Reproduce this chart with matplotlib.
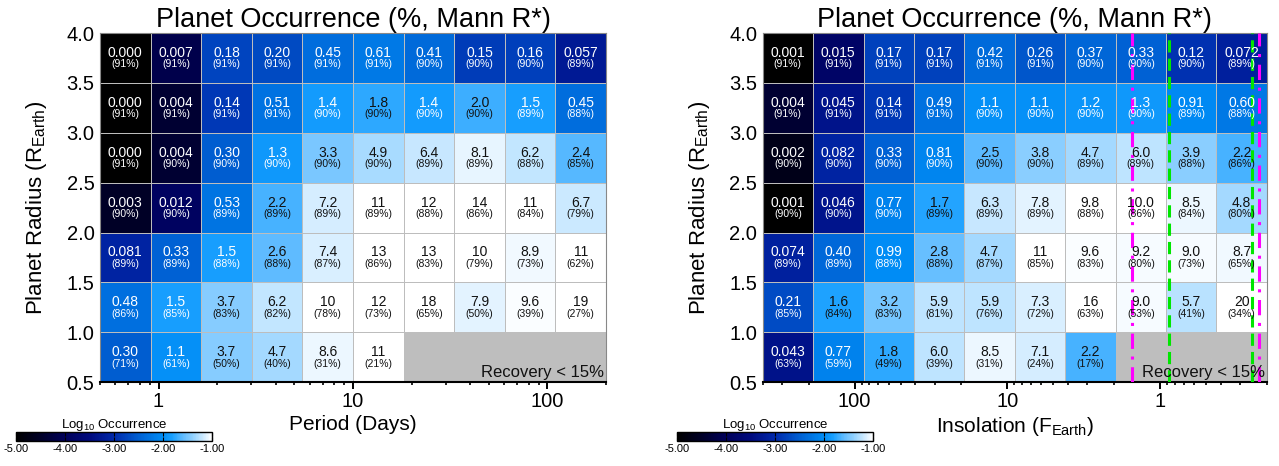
import numpy as np
import matplotlib
matplotlib.use("Agg")
import matplotlib.pyplot as plt
from matplotlib.colors import LinearSegmentedColormap, Normalize
from matplotlib.ticker import NullFormatter, LogLocator

plt.rcParams['font.family'] = ['Liberation Sans', 'DejaVu Sans']
plt.rcParams['mathtext.fontset'] = 'custom'
plt.rcParams['mathtext.rm'] = 'Liberation Sans'
plt.rcParams['mathtext.it'] = 'Liberation Sans:italic'

# bin edges
radius_edges = [0.5, 1.0, 1.5, 2.0, 2.5, 3.0, 3.5, 4.0]
period_edges = [0.5, 0.910, 1.657, 3.017, 5.493, 10.0, 18.20, 33.14, 60.34, 109.9, 200.0]
insol_edges = [400.0, 187.1, 87.5, 40.9, 19.14, 8.95, 4.19, 1.96, 0.915, 0.428, 0.200]

# occurrence (%) rows from R=0.5-1.0 (bottom) up to 3.5-4.0 (top); None = recovery < 15%
occ_period = [
    [0.30, 1.1, 3.7, 4.7, 8.6, 11, None, None, None, None],
    [0.48, 1.5, 3.7, 6.2, 10, 12, 18, 7.9, 9.6, 19],
    [0.081, 0.33, 1.5, 2.6, 7.4, 13, 13, 10, 8.9, 11],
    [0.003, 0.012, 0.53, 2.2, 7.2, 11, 12, 14, 11, 6.7],
    [0.000, 0.004, 0.30, 1.3, 3.3, 4.9, 6.4, 8.1, 6.2, 2.4],
    [0.000, 0.004, 0.14, 0.51, 1.4, 1.8, 1.4, 2.0, 1.5, 0.45],
    [0.000, 0.007, 0.18, 0.20, 0.45, 0.61, 0.41, 0.15, 0.16, 0.057],
]
rec_period = [
    [71, 61, 50, 40, 31, 21, None, None, None, None],
    [86, 85, 83, 82, 78, 73, 65, 50, 39, 27],
    [89, 89, 88, 88, 87, 86, 83, 79, 73, 62],
    [90, 90, 89, 89, 89, 89, 88, 86, 84, 79],
    [91, 90, 90, 90, 90, 90, 89, 89, 88, 85],
    [91, 91, 91, 91, 90, 90, 90, 90, 89, 88],
    [91, 91, 91, 91, 91, 91, 90, 90, 90, 89],
]

occ_insol = [
    [0.043, 0.77, 1.8, 6.0, 8.5, 7.1, 2.2, None, None, None],
    [0.21, 1.6, 3.2, 5.9, 5.9, 7.3, 16, 9.0, 5.7, 20],
    [0.074, 0.40, 0.99, 2.8, 4.7, 11, 9.6, 9.2, 9.0, 8.7],
    [0.001, 0.046, 0.77, 1.7, 6.3, 7.8, 9.8, 9.98, 8.5, 4.8],
    [0.002, 0.082, 0.33, 0.81, 2.5, 3.8, 4.7, 6.0, 3.9, 2.2],
    [0.004, 0.045, 0.14, 0.49, 1.1, 1.1, 1.2, 1.3, 0.91, 0.60],
    [0.001, 0.015, 0.17, 0.17, 0.42, 0.26, 0.37, 0.33, 0.12, 0.072],
]
rec_insol = [
    [63, 59, 49, 39, 31, 24, 17, None, None, None],
    [85, 84, 83, 81, 76, 72, 63, 53, 41, 34],
    [89, 89, 88, 88, 87, 85, 83, 80, 73, 65],
    [90, 90, 90, 89, 89, 89, 88, 86, 84, 80],
    [90, 90, 90, 90, 90, 90, 89, 89, 88, 86],
    [91, 91, 91, 91, 90, 90, 90, 90, 89, 88],
    [91, 91, 91, 91, 91, 91, 90, 90, 90, 89],
]

# habitable zone limits (insolation)
hz_optimistic = [1.53, 0.226]
hz_conservative = [0.88, 0.25]

# colour table: log10 occurrence -> colour
cmap = LinearSegmentedColormap.from_list("bluewhite", [
    (0.000, (0, 0, 0)),
    (0.125, (0, 0, 40 / 255)),
    (0.250, (0, 0, 90 / 255)),
    (0.375, (0, 10 / 255, 125 / 255)),
    (0.500, (0, 40 / 255, 170 / 255)),
    (0.625, (0, 95 / 255, 210 / 255)),
    (0.750, (0, 140 / 255, 245 / 255)),
    (0.800, (25 / 255, 160 / 255, 1)),
    (0.850, (90 / 255, 185 / 255, 1)),
    (0.900, (140 / 255, 207 / 255, 1)),
    (0.950, (195 / 255, 230 / 255, 1)),
    (1.000, (1, 1, 1)),
])
norm = Normalize(vmin=-5, vmax=-1)


def fmt(v):
    if v < 0.1:
        return "%.3f" % v
    if v < 1:
        return "%.2f" % v
    if v < 10:
        return "%.1f" % v
    return "%d" % round(v)


def draw_panel(ax, xedges, occ, rec):
    occ_arr = np.array([[np.nan if v is None else v for v in row] for row in occ], dtype=float)
    logc = np.log10(np.maximum(occ_arr, 1e-6) / 100.0)
    logc = np.ma.masked_invalid(logc)
    ax.pcolormesh(xedges, radius_edges, logc, cmap=cmap, norm=norm,
                  edgecolors='#bdbdbd', linewidth=0.6, zorder=1)
    # gray region where recovery is too low
    for i, row in enumerate(occ):
        missing = [j for j, v in enumerate(row) if v is None]
        if missing:
            ax.fill_between([xedges[missing[0]], xedges[-1]], radius_edges[i], radius_edges[i + 1],
                            color='#bebebe', linewidth=0, zorder=2)
    for i, row in enumerate(occ):
        yc = 0.5 * (radius_edges[i] + radius_edges[i + 1])
        for j, v in enumerate(row):
            if v is None:
                continue
            xc = np.sqrt(xedges[j] * xedges[j + 1])
            col = 'white' if v < 1.55 else '#111111'
            ax.text(xc, yc + 0.05, fmt(v), ha='center', va='center', fontsize=10, color=col, zorder=4)
            ax.text(xc, yc - 0.065, "(%d%%)" % rec[i][j], ha='center', va='center', fontsize=7.5,
                    color=col, zorder=4)
    ax.text(0.997, 0.006, "Recovery < 15%", transform=ax.transAxes, ha='right', va='bottom',
            fontsize=12, color='#111111', zorder=4)
    ax.set_xscale('log')
    ax.set_xlim(xedges[0], xedges[-1])
    ax.set_ylim(radius_edges[0], radius_edges[-1])
    ax.set_yticks(radius_edges)
    ax.set_yticklabels(["%.1f" % r for r in radius_edges])
    ax.tick_params(axis='y', length=0, pad=4, labelsize=14.5)
    ax.tick_params(axis='x', which='major', direction='out', length=5, width=1.4, labelsize=14.5, pad=2)
    ax.tick_params(axis='x', which='minor', direction='out', length=2.5, width=1.2)
    ax.xaxis.set_minor_locator(LogLocator(base=10, subs=np.arange(2, 10)))
    ax.xaxis.set_minor_formatter(NullFormatter())
    for side in ['top', 'right', 'left']:
        ax.spines[side].set_color('#888888')
        ax.spines[side].set_linewidth(0.8)
    ax.spines['bottom'].set_linewidth(1.5)
    ax.set_title("Planet Occurrence (%, Mann R*)", fontsize=19.5, pad=2)
    ax.set_ylabel(r"Planet Radius (R$_{\mathrm{Earth}}$)", fontsize=16)
    ax.yaxis.set_label_coords(-0.1, 0.5)


def draw_colorbar(fig, rect):
    cax = fig.add_axes(rect)
    sm = plt.cm.ScalarMappable(norm=norm, cmap=cmap)
    cb = fig.colorbar(sm, cax=cax, orientation='horizontal', ticks=[-5, -4, -3, -2, -1])
    cb.ax.set_xticklabels(["%.2f" % t for t in [-5, -4, -3, -2, -1]])
    cb.ax.tick_params(direction='in', length=3, width=0.8, labelsize=8, pad=2, top=True)
    cb.outline.set_linewidth(1.0)
    cb.outline.set_edgecolor('black')
    cax.set_title(r"Log$_{10}$ Occurrence", fontsize=9.5, pad=3)


fig = plt.figure(figsize=(12.79, 4.66), dpi=100)

ax1 = fig.add_axes([0.0782, 0.180, 0.3956, 0.749])
draw_panel(ax1, period_edges, occ_period, rec_period)
ax1.set_xticks([1, 10, 100])
ax1.set_xticklabels(["1", "10", "100"])
ax1.set_xlabel("Period (Days)", fontsize=15, labelpad=3)

ax2 = fig.add_axes([0.5963, 0.180, 0.3943, 0.749])
draw_panel(ax2, insol_edges, occ_insol, rec_insol)
ax2.set_xticks([100, 10, 1])
ax2.set_xticklabels(["100", "10", "1"])
ax2.set_xlabel(r"Insolation (F$_{\mathrm{Earth}}$)", fontsize=15, labelpad=3)
for x in hz_optimistic:
    ax2.axvline(x, color='#ff00ff', linestyle=(0, (5, 2.5, 1, 2.5)), linewidth=2.2, zorder=3)
for x in hz_conservative:
    ax2.axvline(x, color='#00e600', linestyle=(0, (4, 2)), linewidth=2.2, zorder=3)

draw_colorbar(fig, [0.0125, 0.0536, 0.153, 0.0193])
draw_colorbar(fig, [0.5293, 0.0536, 0.153, 0.0193])

fig.savefig("out.png", dpi=100)
